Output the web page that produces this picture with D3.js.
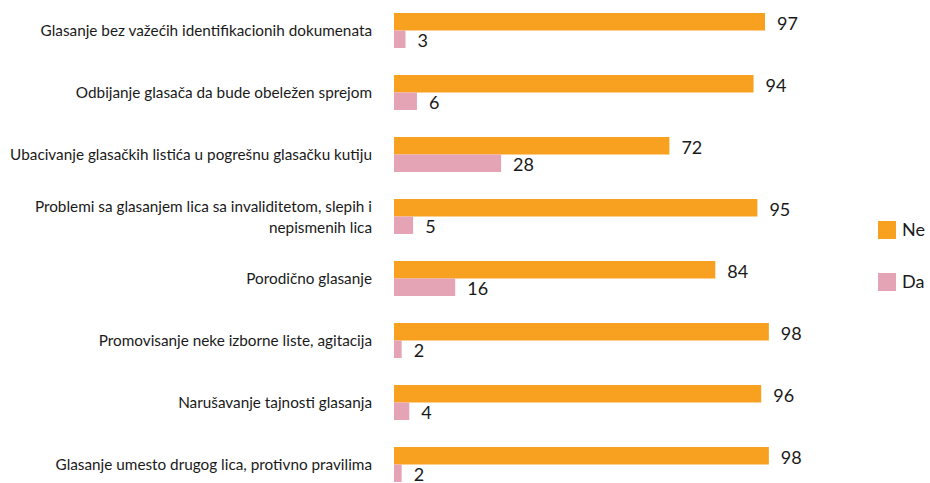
<!DOCTYPE html>
<html>
<head>
<meta charset="utf-8">
<script src="https://cdn.jsdelivr.net/npm/d3@7"></script>
<style>
  body { margin: 0; background: #fff; }
  svg { display: block; font-family: "Lato", "Open Sans", sans-serif; }
</style>
</head>
<body>
<svg width="930" height="483"></svg>
<script>
var categories = [
    ["Glasanje bez važećih identifikacionih dokumenata"],
    ["Odbijanje glasača da bude obeležen sprejom"],
    ["Ubacivanje glasačkih listića u pogrešnu glasačku kutiju"],
    ["Problemi sa glasanjem lica sa invaliditetom, slepih i", "nepismenih lica"],
    ["Porodično glasanje"],
    ["Promovisanje neke izborne liste, agitacija"],
    ["Narušavanje tajnosti glasanja"],
    ["Glasanje umesto drugog lica, protivno pravilima"]
];
var seriesNames = ["Ne", "Da"];
var neValues = [97, 94, 72, 95, 84, 98, 96, 98];
var daValues = [3, 6, 28, 5, 16, 2, 4, 2];
var colors = ["#f8a01f", "#e5a4b5"];

var svg = d3.select("svg");

// one band per question, inner band per series
var y = d3.scaleBand().domain(d3.range(categories.length)).range([13, 509]);
var inner = d3.scaleBand().domain(seriesNames).range([0, 35]);
var x = d3.scaleLinear().domain([0, 100]).range([394, 776.5]);

var rows = categories.map(function(c, i) {
    return { idx: i, label: c, values: [neValues[i], daValues[i]] };
});

var g = svg.selectAll("g.row")
    .data(rows)
    .enter()
    .append("g")
    .attr("class", "row")
    .attr("transform", function(d) { return "translate(0," + y(d.idx) + ")"; });

g.selectAll("rect")
    .data(function(d) { return d.values.map(function(v, j) { return { name: seriesNames[j], value: v, j: j }; }); })
    .enter()
    .append("rect")
    .attr("x", x(0))
    .attr("y", function(d) { return inner(d.name); })
    .attr("width", function(d) { return x(d.value) - x(0); })
    .attr("height", inner.bandwidth())
    .attr("fill", function(d) { return colors[d.j]; });

// value labels sit a little below the bar middle
g.selectAll("text.val")
    .data(function(d) { return d.values.map(function(v, j) { return { name: seriesNames[j], value: v }; }); })
    .enter()
    .append("text")
    .attr("class", "val")
    .attr("x", function(d) { return x(d.value) + 12; })
    .attr("y", function(d) { return inner(d.name) + inner.bandwidth() / 2 + 1.5; })
    .attr("dy", "0.36em")
    .attr("font-size", 18)
    .attr("fill", "#1a1a1a")
    .text(function(d) { return d.value; });

// category labels, right aligned
g.each(function(d) {
    var n = d.label.length;
    var t = d3.select(this).append("text")
        .attr("x", 372)
        .attr("text-anchor", "end")
        .attr("font-size", 15.3)
        .attr("fill", "#1a1a1a");
    d.label.forEach(function(line, k) {
        t.append("tspan")
            .attr("x", 372)
            .attr("y", 17.5 + (k - (n - 1) / 2) * 21)
            .attr("dy", "0.36em")
            .text(line);
    });
});

// legend
var legend = svg.selectAll("g.legend")
    .data(seriesNames)
    .enter()
    .append("g")
    .attr("class", "legend")
    .attr("transform", function(d, i) { return "translate(878," + (221 + i * 52) + ")"; });

legend.append("rect")
    .attr("width", 18)
    .attr("height", 18)
    .attr("fill", function(d, i) { return colors[i]; });

legend.append("text")
    .attr("x", 24)
    .attr("y", 9)
    .attr("dy", "0.36em")
    .attr("font-size", 18)
    .attr("fill", "#1a1a1a")
    .text(function(d) { return d; });
</script>
</body>
</html>
